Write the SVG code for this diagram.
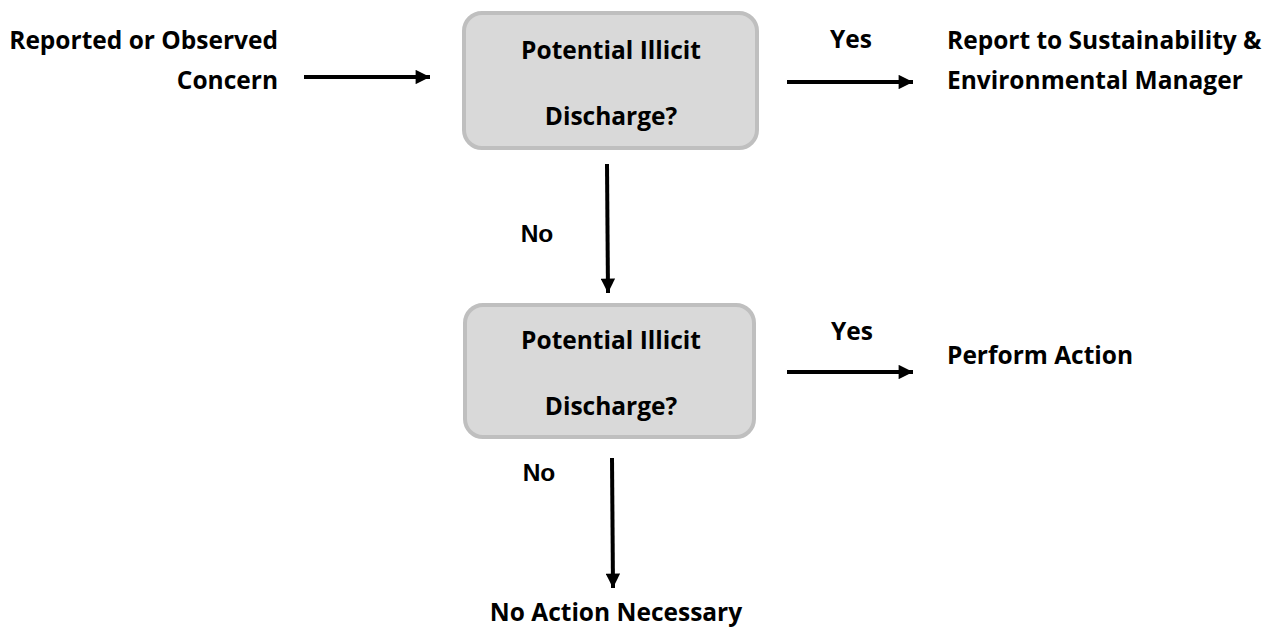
<svg xmlns="http://www.w3.org/2000/svg" width="1279" height="631" viewBox="0 0 1279 631">
<defs>
<style>
text{font-family:"Open Sans","Liberation Sans",sans-serif;font-weight:700;font-size:24.5px;fill:#000}
text.lbl{font-family:"Liberation Sans",Arial,sans-serif;font-size:24.5px}
.box{fill:#D9D9D9;stroke:#BFBFBF;stroke-width:4}
.c{text-anchor:middle}
.e{text-anchor:end}
.ln{stroke:#000;stroke-width:4;fill:none}
</style>
<marker id="ah" viewBox="0 0 10 10" refX="10" refY="5" markerWidth="4" markerHeight="3.6" markerUnits="strokeWidth" orient="auto">
<path d="M0,0 L10,5 L0,10 z" fill="#000"/>
</marker>
</defs>
<rect width="1279" height="631" fill="#fff"/>
<g id="start">
<text class="e" x="278" y="49">Reported or Observed</text>
<text class="e" x="278" y="89">Concern</text>
</g>
<g id="decision1">
<rect class="box" x="464" y="13" width="293" height="135" rx="18"/>
<text class="c" x="611" y="59">Potential Illicit</text>
<text class="c" x="611" y="125">Discharge?</text>
</g>
<g id="report">
<text x="947" y="49">Report to Sustainability &amp;</text>
<text x="947" y="89">Environmental Manager</text>
</g>
<g id="decision2">
<rect class="box" x="465" y="305" width="289" height="132" rx="18"/>
<text class="c" x="611" y="349">Potential Illicit</text>
<text class="c" x="611" y="415">Discharge?</text>
</g>
<g id="perform">
<text x="947" y="364">Perform Action</text>
</g>
<g id="noaction">
<text class="c" x="616" y="621">No Action Necessary</text>
</g>
<g id="connectors">
<line class="ln" x1="304" y1="77" x2="430" y2="77" marker-end="url(#ah)"/>
<line class="ln" x1="787" y1="82" x2="913" y2="82" marker-end="url(#ah)"/>
<line class="ln" x1="607" y1="164" x2="608" y2="293" marker-end="url(#ah)"/>
<line class="ln" x1="787" y1="372" x2="913" y2="372" marker-end="url(#ah)"/>
<line class="ln" x1="612" y1="458" x2="613" y2="588" marker-end="url(#ah)"/>
<text class="c" x="851" y="48">Yes</text>
<text class="c" x="852" y="340">Yes</text>
<text class="c lbl" x="537" y="242">No</text>
<text class="c lbl" x="539" y="481">No</text>
</g>
</svg>
